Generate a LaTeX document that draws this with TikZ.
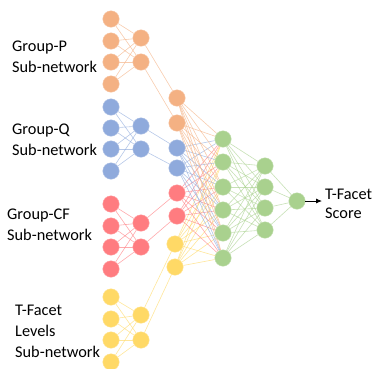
\documentclass[tikz,border=0pt]{standalone}
\usepackage{fontspec}
\setmainfont{Carlito}
\usetikzlibrary{arrows.meta,backgrounds}
\definecolor{cor}{HTML}{F4B183}
\definecolor{cbl}{HTML}{8FAADC}
\definecolor{crd}{HTML}{FF7C80}
\definecolor{cye}{HTML}{FFD966}
\definecolor{cgr}{HTML}{A9D18E}
\begin{document}
\begin{tikzpicture}[x=1pt,y=-1pt,
  neur/.style={circle,fill=#1,draw=#1!70!white,line width=0.4pt,minimum size=16.5pt,inner sep=0pt},
  link/.style={draw=#1,line width=0.6pt,opacity=0.65},
  lbl/.style={anchor=west,align=left,font=\fontsize{16.3}{21}\selectfont,inner sep=0pt}]
\useasboundingbox (0,0) rectangle (375,368);
% input layers
\foreach \y [count=\i] in {19,41,62,84} \node[neur=cor] (op\i) at (111,\y) {};
\foreach \y [count=\i] in {107,128,149,171} \node[neur=cbl] (bp\i) at (111,\y) {};
\foreach \y [count=\i] in {204,226,247,269} \node[neur=crd] (rp\i) at (111,\y) {};
\foreach \y [count=\i] in {297,319,340,362} \node[neur=cye] (yp\i) at (111,\y) {};
% hidden layers
\foreach \y [count=\i] in {38,62} \node[neur=cor] (oh\i) at (141,\y) {};
\foreach \y [count=\i] in {126,149} \node[neur=cbl] (bh\i) at (141,\y) {};
\foreach \y [count=\i] in {223,247} \node[neur=crd] (rh\i) at (141,\y) {};
\foreach \y [count=\i] in {315,340} \node[neur=cye] (yh\i) at (141,\y) {};
% column 3
\node[neur=cor] (c1) at (177,98) {};
\node[neur=cor] (c2) at (177,123) {};
\node[neur=cbl] (c3) at (177,148) {};
\node[neur=cbl] (c4) at (177,168) {};
\node[neur=crd] (c5) at (177,193) {};
\node[neur=crd] (c6) at (177,216) {};
\node[neur=cye] (c7) at (175,244) {};
\node[neur=cye] (c8) at (175,267) {};
% column 4
\foreach \y [count=\i] in {139,162,187,210,233,258} \node[neur=cgr] (g\i) at (223,\y) {};
% column 5
\foreach \y [count=\i] in {166,187,208,230} \node[neur=cgr] (h\i) at (265,\y) {};
% output
\node[neur=cgr] (out) at (297,201) {};
\coordinate (arr) at (322,201);
\node[anchor=west,align=left,font=\fontsize{16.3}{19.5}\selectfont,inner sep=0pt] (score) at (325,204) {T-Facet\\Score};
% labels
\node[lbl] (lp) at (12,57) {Group-P\\Sub-network};
\node[lbl] (lq) at (12,140) {Group-Q\\Sub-network};
\node[lbl] (lc) at (7,225) {Group-CF\\Sub-network};
\node[lbl] (lt) at (15,331) {T-Facet\\Levels\\Sub-network};
\begin{scope}[on background layer]
\foreach \a in {1,...,4}\foreach \b in {1,2}{
  \draw[link=cor] (op\a) -- (oh\b);
  \draw[link=cbl] (bp\a) -- (bh\b);
  \draw[link=crd] (rp\a) -- (rh\b);
  \draw[link=cye] (yp\a) -- (yh\b);}
\draw[link=cor] (oh1) -- (c1); \draw[link=cor] (oh2) -- (c2);
\draw[link=cbl] (bh1) -- (c3); \draw[link=cbl] (bh2) -- (c4);
\draw[link=crd] (rh1) -- (c5); \draw[link=crd] (rh2) -- (c6);
\draw[link=cye] (yh1) -- (c7); \draw[link=cye] (yh2) -- (c8);
\foreach \b in {1,...,6}{
  \foreach \a in {1,2} \draw[link=cor] (c\a) -- (g\b);
  \foreach \a in {3,4} \draw[link=cbl] (c\a) -- (g\b);
  \foreach \a in {5,6} \draw[link=crd] (c\a) -- (g\b);
  \foreach \a in {7,8} \draw[link=cye] (c\a) -- (g\b);}
\foreach \a in {1,...,6}\foreach \b in {1,...,4} \draw[link=cgr] (g\a) -- (h\b);
\foreach \a in {1,...,4} \draw[link=cgr] (h\a) -- (out);
\end{scope}
\draw[-{Latex[length=6pt,width=5pt]},line width=0.8pt] (out) -- (arr);
\end{tikzpicture}
\end{document}
